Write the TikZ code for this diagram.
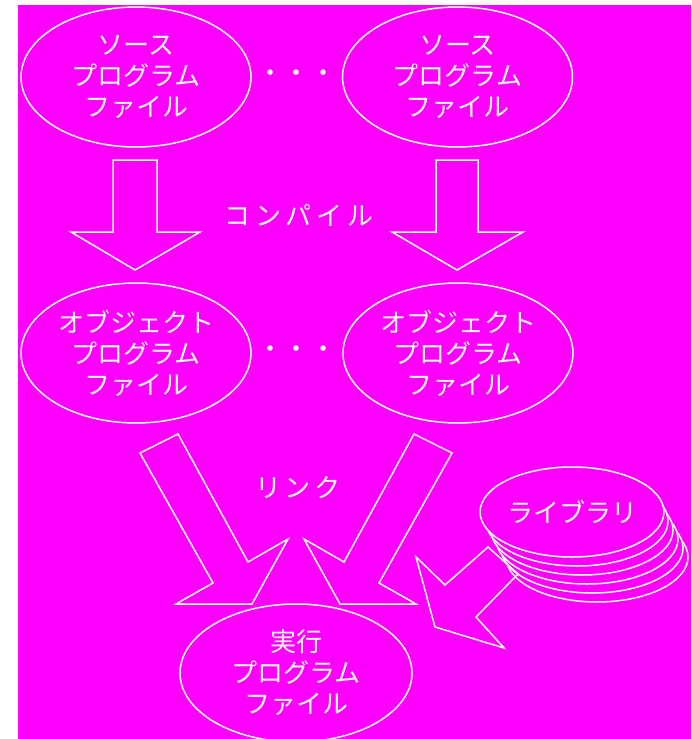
\documentclass[tikz,border=0pt]{standalone}
\usepackage{fontspec}
\newfontfamily\jp{Noto Sans CJK JP}
\usetikzlibrary{shapes.geometric}
\definecolor{bgmag}{RGB}{255,0,255}
\tikzset{
  oval/.style={ellipse, draw=white, line width=1.5pt, text=white,
    font=\jp\fontsize{26}{31}\selectfont, align=center,
    minimum width=230pt, minimum height=140pt, inner sep=0pt, outer sep=0pt},
  disk/.style={ellipse, draw=white, fill=bgmag, line width=1.5pt, text=white,
    font=\jp\fontsize{26}{31}\selectfont,
    minimum width=182pt, minimum height=90pt, inner sep=0pt, outer sep=0pt},
  blockarrow/.style={draw=white, line width=1.5pt, line join=miter},
  lbl/.style={text=white, inner sep=0pt},
}
\begin{document}
\begin{tikzpicture}[x=1pt,y=-1pt]
\useasboundingbox (0,0) rectangle (691,739);
\clip (0,0) rectangle (691,739);
\fill[white] (0,0) rectangle (691,739);
\fill[bgmag] (18,5) rectangle (691,739);

% source files
\node[oval] (src1) at (136,77) {ソース\\プログラム\\ファイル};
\node[oval] (src2) at (457.5,77) {ソース\\プログラム\\ファイル};
\node[lbl, font=\jp\fontsize{26}{31}\selectfont\addfontfeature{LetterSpace=2}] (dots1) at (297,73) {\vphantom{ソ}・・・};

% compile arrows
\draw[blockarrow] (113,160) -- (157,160) -- (157,232) -- (200,232) -- (135,270) -- (71,232) -- (113,232) -- cycle;
\draw[blockarrow] (436,160) -- (478,160) -- (478,232) -- (523,232) -- (457,270) -- (392,232) -- (436,232) -- cycle;
\node[lbl, font=\jp\fontsize{26}{31}\selectfont\addfontfeature{LetterSpace=19}] (compile) at (299,215) {コンパイル};

% object files
\node[oval] (obj1) at (136,353) {オブジェクト\\プログラム\\ファイル};
\node[oval] (obj2) at (458,353) {オブジェクト\\プログラム\\ファイル};
\node[lbl, font=\jp\fontsize{26}{31}\selectfont\addfontfeature{LetterSpace=2}] (dots2) at (297,349) {\vphantom{ソ}・・・};

% link arrows
\draw[blockarrow] (140,453) -- (178,434) -- (248,562) -- (288,539) -- (252,604) -- (176,604) -- (213,583) -- cycle;
\draw[blockarrow] (452,453) -- (414,434) -- (344,562) -- (304,539) -- (340,604) -- (416,604) -- (379,583) -- cycle;
\node[lbl, font=\jp\fontsize{26}{31}\selectfont\addfontfeature{LetterSpace=12}] (link) at (298,488) {リンク};

% library stack
\node[disk] (lib5) at (597,557) {};
\node[disk] (lib4) at (592,548) {};
\node[disk] (lib3) at (587,539) {};
\node[disk] (lib2) at (582,530) {};
\node[disk] (lib1) at (577,521) {};
\node[disk] (lib) at (572,512) {ライブラリ};

% library arrow
\draw[blockarrow] (488,547) -- (445,585) -- (416,557) -- (435,627) -- (504,648) -- (476,617) -- (518,574) -- cycle;

% executable
\node[oval, minimum width=232pt, minimum height=138pt] (exe) at (296,673) {実行\\プログラム\\ファイル};
\end{tikzpicture}
\end{document}
